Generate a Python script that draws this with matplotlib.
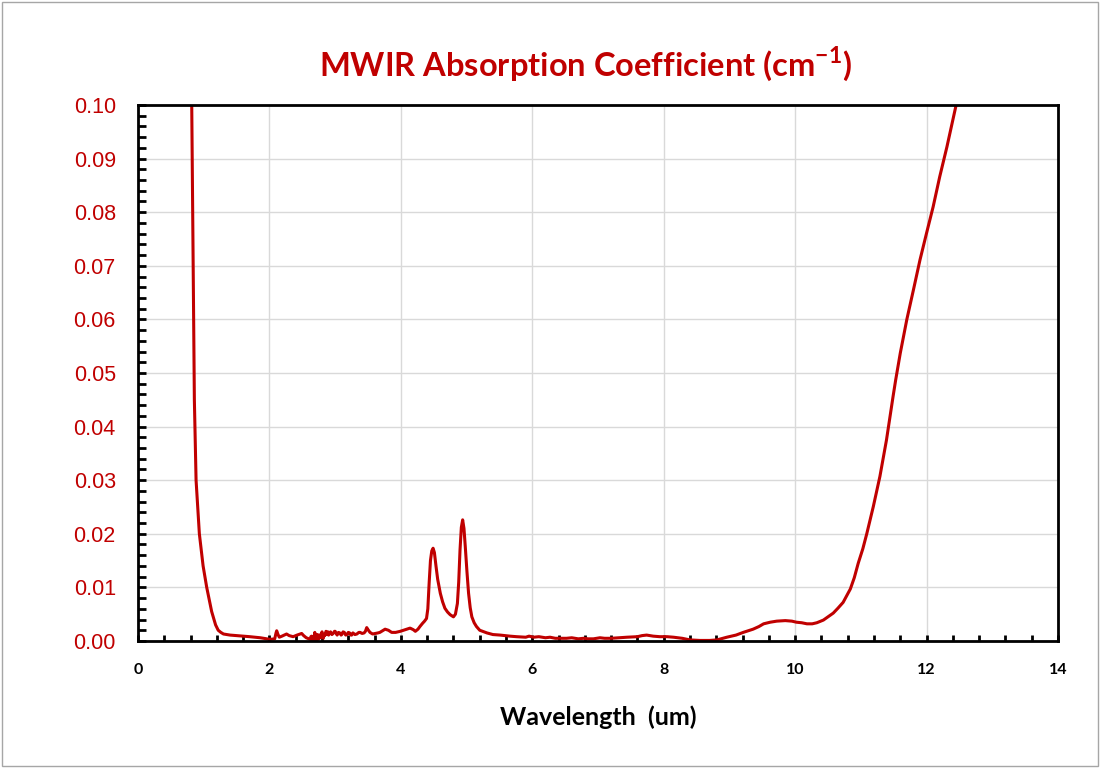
import numpy as np
import matplotlib.pyplot as plt
from matplotlib.patches import Rectangle
from matplotlib.ticker import MultipleLocator

# wavelength (um) and absorption coefficient (cm-1)
wl = [0.78, 0.817, 0.857, 0.883, 0.933, 0.99, 1.045, 1.12, 1.18, 1.22, 1.26, 1.30, 1.40, 1.50, 1.70, 1.86, 2.01,
      2.08, 2.10, 2.11, 2.13, 2.15, 2.19, 2.26, 2.30, 2.36, 2.42, 2.49, 2.52, 2.54, 2.56, 2.58, 2.60, 2.62, 2.63, 2.64,
      2.65, 2.66, 2.67, 2.68, 2.69, 2.70, 2.71, 2.72, 2.73, 2.74, 2.75, 2.76, 2.77, 2.78, 2.79, 2.80, 2.81, 2.82,
      2.83, 2.84, 2.85, 2.86, 2.87, 2.88, 2.89, 2.90, 2.92, 2.93, 2.95, 2.97, 2.99, 3.00, 3.02, 3.03, 3.05, 3.07,
      3.09, 3.10, 3.12, 3.14, 3.16, 3.18, 3.20, 3.22, 3.24, 3.25, 3.27, 3.28, 3.30, 3.33, 3.36, 3.38, 3.41, 3.44,
      3.46, 3.48, 3.50, 3.53, 3.57, 3.61, 3.65, 3.68, 3.72, 3.76, 3.81, 3.86, 3.92, 3.99, 4.04, 4.09, 4.14, 4.19,
      4.22, 4.26, 4.29, 4.33, 4.36, 4.39, 4.41, 4.43, 4.45, 4.47, 4.49, 4.51, 4.535, 4.56, 4.60, 4.635, 4.67,
      4.71, 4.75, 4.80, 4.83, 4.86, 4.88, 4.90, 4.92, 4.94, 4.96, 4.98, 5.005, 5.03, 5.055, 5.08, 5.115, 5.15,
      5.20, 5.31, 5.40, 5.51, 5.66, 5.76, 5.90, 5.95, 6.02, 6.10, 6.20, 6.27, 6.35, 6.42, 6.52, 6.60, 6.70, 6.78,
      6.85, 6.93, 7.03, 7.10, 7.20, 7.32, 7.44, 7.60, 7.67, 7.74, 7.84, 7.94, 8.05, 8.15, 8.28, 8.40, 8.55, 8.70,
      8.81, 8.96, 9.10, 9.21, 9.36, 9.45, 9.52, 9.62, 9.72, 9.85, 9.95, 10.02, 10.10, 10.18, 10.26, 10.33, 10.43,
      10.50, 10.58, 10.65, 10.73, 10.84, 10.90, 10.96, 11.03, 11.09, 11.19, 11.29, 11.39, 11.49, 11.53, 11.60,
      11.70, 11.80, 11.90, 12.00, 12.10, 12.20, 12.31, 12.45, 12.55]
alpha = [0.108, 0.100, 0.045, 0.030, 0.020, 0.0140, 0.0100, 0.0055, 0.0030, 0.0020, 0.0016, 0.0013, 0.0011, 0.0010, 0.0008, 0.0006, 0.0003,
         0.0004, 0.0015, 0.0019, 0.0012, 0.0007, 0.0009, 0.0013, 0.0010, 0.0008, 0.0011, 0.0014, 0.0010, 0.0008, 0.0006, 0.0005, 0.0004, 0.0003, 0.0008, 0.0009,
         0.0002, 0.0006, 0.0000, 0.0008, 0.0016, 0.0004, 0.0001, 0.0010, 0.0012, 0.0003, 0.0004, 0.0011, 0.0009, 0.0006, 0.0014, 0.0017, 0.0008, 0.0005,
         0.0012, 0.0010, 0.0013, 0.0018, 0.0016, 0.0012, 0.0017, 0.0011, 0.0016, 0.0017, 0.0012, 0.0014, 0.0018, 0.0018, 0.0013, 0.0011, 0.0016, 0.0015,
         0.0011, 0.0012, 0.0017, 0.0016, 0.0011, 0.0012, 0.0016, 0.0015, 0.0011, 0.0011, 0.0015, 0.0014, 0.0012, 0.0013, 0.0016, 0.0016, 0.0014, 0.0015,
         0.0018, 0.0025, 0.0021, 0.0016, 0.0013, 0.0014, 0.0015, 0.0016, 0.0019, 0.0022, 0.0020, 0.0016, 0.0016, 0.0018, 0.0020, 0.0022, 0.0024, 0.0021,
         0.0018, 0.0022, 0.0027, 0.0033, 0.0037, 0.0042, 0.0060, 0.0108, 0.0150, 0.0168, 0.0173, 0.0165, 0.0139, 0.0115, 0.0089, 0.0073, 0.0061,
         0.0054, 0.0049, 0.0045, 0.0050, 0.0070, 0.0110, 0.0170, 0.0212, 0.0226, 0.0210, 0.0176, 0.0130, 0.0089, 0.0062, 0.0045, 0.0034, 0.0027,
         0.0020, 0.0015, 0.0012, 0.0011, 0.0009, 0.0008, 0.0007, 0.0009, 0.0007, 0.0008, 0.0006, 0.0007, 0.0005, 0.0005, 0.0005, 0.0006, 0.0004, 0.0005,
         0.0004, 0.0004, 0.0006, 0.0005, 0.0005, 0.0006, 0.0007, 0.0008, 0.0010, 0.0011, 0.0009, 0.0008, 0.0008, 0.0007, 0.0005, 0.0002, 0.0001, 0.0001,
         0.0002, 0.0007, 0.0011, 0.0016, 0.0022, 0.0027, 0.0032, 0.0035, 0.0037, 0.0038, 0.0037, 0.0035, 0.0034, 0.0032, 0.0032, 0.0034, 0.0039,
         0.0045, 0.0052, 0.0061, 0.0072, 0.0097, 0.0118, 0.0145, 0.0172, 0.0200, 0.0251, 0.0307, 0.0375, 0.0456, 0.0487, 0.0537,
         0.0600, 0.0655, 0.0711, 0.0761, 0.0810, 0.0866, 0.0922, 0.1000, 0.1060]

red = '#C00000'

fig = plt.figure(figsize=(11, 7.68), dpi=100)
fig.patches.append(Rectangle((0.002, 0.003), 0.996, 0.994, transform=fig.transFigure,
                             fill=False, edgecolor='#A6A6A6', linewidth=1))
ax = fig.add_axes([0.1255, 0.1654, 0.8363, 0.6979])

ax.plot(wl, alpha, color=red, linewidth=2.2)

ax.set_xlim(0, 14)
ax.set_ylim(0, 0.1)
ax.xaxis.set_major_locator(MultipleLocator(2))
ax.xaxis.set_minor_locator(MultipleLocator(0.4))
ax.yaxis.set_major_locator(MultipleLocator(0.01))
ax.yaxis.set_minor_locator(MultipleLocator(0.002))
ax.grid(True, which='major', color='#D9D9D9', linewidth=1)
ax.set_axisbelow(True)

for s in ax.spines.values():
    s.set_linewidth(2)
    s.set_color('black')

ax.tick_params(which='both', direction='in', color='black', width=2)
ax.tick_params(axis='x', which='both', length=4, pad=16)
ax.tick_params(axis='y', which='both', length=6, pad=16)
ax.set_yticklabels([f'{v:.2f}' for v in ax.get_yticks()], color=red,
                   fontsize=15.5, family='Liberation Sans')
ax.set_xticklabels([f'{v:g}' for v in ax.get_xticks()], fontsize=11.5,
                   fontweight='bold', family='Lato')

ax.set_xlabel('Wavelength  (um)', fontsize=18, fontweight='bold', family='Lato', labelpad=20)
fig.text(0.532, 0.917, 'MWIR Absorption Coefficient (cm$^{\\mathregular{-1}}$)', color=red,
         fontsize=23.5, fontweight='bold', family='Lato', ha='center', va='center')

fig.savefig('out.png', dpi=100)
